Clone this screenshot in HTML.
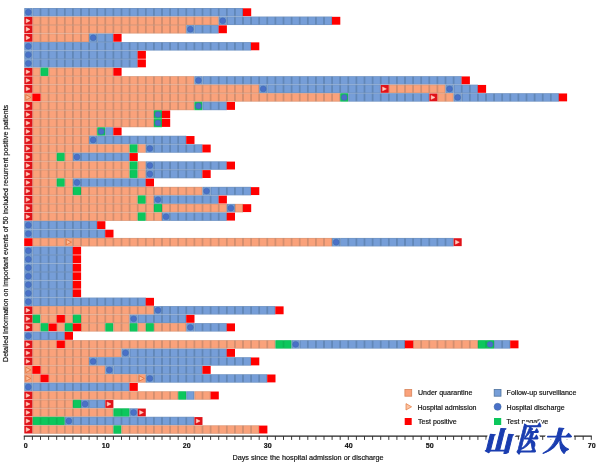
<!DOCTYPE html>
<html><head><meta charset="utf-8"><title>Recurrent positive patients timeline</title>
<style>
html,body{margin:0;padding:0;background:#fff;}
body{width:600px;height:476px;overflow:hidden;font-family:"Liberation Sans","Noto Sans CJK SC",sans-serif;}
text{stroke:#111;stroke-width:0.18px;} .wm text{stroke:inherit;stroke-width:inherit;}
svg{display:block;font-family:"Liberation Sans","Noto Sans CJK SC",sans-serif;}
.wm{font-family:"Liberation Serif","Noto Serif CJK SC",serif;font-weight:900;}
</style></head><body>
<svg width="600" height="476" viewBox="0 0 600 476">
<defs><pattern id="po" patternUnits="userSpaceOnUse" x="24.3" y="8" width="8.1" height="8.516"><rect width="8.1" height="8.516" fill="#C4A89C"/><rect y="0.3" width="8.1" height="7.9" fill="#B47E64"/><rect x="0.5" y="0.3" width="7.1" height="7.9" fill="#FAA27B"/></pattern><pattern id="pb" patternUnits="userSpaceOnUse" x="24.3" y="8" width="8.1" height="8.516"><rect width="8.1" height="8.516" fill="#9FB2C4"/><rect y="0.3" width="8.1" height="7.9" fill="#50749F"/><rect x="0.5" y="0.3" width="7.1" height="7.9" fill="#769ED8"/></pattern><pattern id="pg" patternUnits="userSpaceOnUse" x="24.3" y="8" width="8.1" height="8.516"><rect width="8.1" height="8.516" fill="#8FCFA8"/><rect y="0.3" width="8.1" height="7.9" fill="#0AA84C"/><rect x="0.5" y="0.3" width="7.1" height="7.9" fill="#0CC75C"/></pattern></defs>
<rect width="600" height="476" fill="#fff"/>
<g>
<rect x="24.3" y="8" width="8.1" height="8.52" fill="url(#pb)"/>
<rect x="32.4" y="8" width="210.6" height="8.52" fill="url(#pb)"/>
<circle cx="28.35" cy="12.25" r="2.95" fill="#4A70C8" stroke="#3C6AA8" stroke-width="0.5"/>
<rect x="242.9" y="8.3" width="8.3" height="7.9" fill="#FF0000"/>
<rect x="32.4" y="16.52" width="186.3" height="8.52" fill="url(#po)"/>
<rect x="218.7" y="16.52" width="8.1" height="8.52" fill="url(#pb)"/>
<rect x="226.8" y="16.52" width="105.3" height="8.52" fill="url(#pb)"/>
<rect x="24.3" y="16.82" width="8.1" height="7.9" fill="#E01218"/>
<polygon points="26.2,18.82 30,20.77 26.2,22.72" fill="#FFCDBE" stroke="#FFCDBE" stroke-width="0.5"/>
<circle cx="222.75" cy="20.77" r="2.95" fill="#4A70C8" stroke="#3C6AA8" stroke-width="0.5"/>
<rect x="332" y="16.82" width="8.3" height="7.9" fill="#FF0000"/>
<rect x="32.4" y="25.03" width="153.9" height="8.52" fill="url(#po)"/>
<rect x="186.3" y="25.03" width="8.1" height="8.52" fill="url(#pb)"/>
<rect x="194.4" y="25.03" width="24.3" height="8.52" fill="url(#pb)"/>
<rect x="24.3" y="25.33" width="8.1" height="7.9" fill="#E01218"/>
<polygon points="26.2,27.33 30,29.28 26.2,31.23" fill="#FFCDBE" stroke="#FFCDBE" stroke-width="0.5"/>
<circle cx="190.35" cy="29.28" r="2.95" fill="#4A70C8" stroke="#3C6AA8" stroke-width="0.5"/>
<rect x="218.6" y="25.33" width="8.3" height="7.9" fill="#FF0000"/>
<rect x="32.4" y="33.55" width="56.7" height="8.52" fill="url(#po)"/>
<rect x="89.1" y="33.55" width="8.1" height="8.52" fill="url(#pb)"/>
<rect x="97.2" y="33.55" width="16.2" height="8.52" fill="url(#pb)"/>
<rect x="24.3" y="33.85" width="8.1" height="7.9" fill="#E01218"/>
<polygon points="26.2,35.85 30,37.8 26.2,39.75" fill="#FFCDBE" stroke="#FFCDBE" stroke-width="0.5"/>
<circle cx="93.15" cy="37.8" r="2.95" fill="#4A70C8" stroke="#3C6AA8" stroke-width="0.5"/>
<rect x="113.3" y="33.85" width="8.3" height="7.9" fill="#FF0000"/>
<rect x="24.3" y="42.06" width="8.1" height="8.52" fill="url(#pb)"/>
<rect x="32.4" y="42.06" width="218.7" height="8.52" fill="url(#pb)"/>
<circle cx="28.35" cy="46.31" r="2.95" fill="#4A70C8" stroke="#3C6AA8" stroke-width="0.5"/>
<rect x="251" y="42.36" width="8.3" height="7.9" fill="#FF0000"/>
<rect x="24.3" y="50.58" width="8.1" height="8.52" fill="url(#pb)"/>
<rect x="32.4" y="50.58" width="105.3" height="8.52" fill="url(#pb)"/>
<circle cx="28.35" cy="54.83" r="2.95" fill="#4A70C8" stroke="#3C6AA8" stroke-width="0.5"/>
<rect x="137.6" y="50.88" width="8.3" height="7.9" fill="#FF0000"/>
<rect x="24.3" y="59.1" width="8.1" height="8.52" fill="url(#pb)"/>
<rect x="32.4" y="59.1" width="105.3" height="8.52" fill="url(#pb)"/>
<circle cx="28.35" cy="63.35" r="2.95" fill="#4A70C8" stroke="#3C6AA8" stroke-width="0.5"/>
<rect x="137.6" y="59.4" width="8.3" height="7.9" fill="#FF0000"/>
<rect x="32.4" y="67.61" width="8.1" height="8.52" fill="url(#po)"/>
<rect x="40.5" y="67.61" width="8.1" height="8.52" fill="url(#pg)"/>
<rect x="48.6" y="67.61" width="64.8" height="8.52" fill="url(#po)"/>
<rect x="24.3" y="67.91" width="8.1" height="7.9" fill="#E01218"/>
<polygon points="26.2,69.91 30,71.86 26.2,73.81" fill="#FFCDBE" stroke="#FFCDBE" stroke-width="0.5"/>
<rect x="113.3" y="67.91" width="8.3" height="7.9" fill="#FF0000"/>
<rect x="32.4" y="76.13" width="162" height="8.52" fill="url(#po)"/>
<rect x="194.4" y="76.13" width="8.1" height="8.52" fill="url(#pb)"/>
<rect x="202.5" y="76.13" width="259.2" height="8.52" fill="url(#pb)"/>
<rect x="24.3" y="76.43" width="8.1" height="7.9" fill="#E01218"/>
<polygon points="26.2,78.43 30,80.38 26.2,82.33" fill="#FFCDBE" stroke="#FFCDBE" stroke-width="0.5"/>
<circle cx="198.45" cy="80.38" r="2.95" fill="#4A70C8" stroke="#3C6AA8" stroke-width="0.5"/>
<rect x="461.6" y="76.43" width="8.3" height="7.9" fill="#FF0000"/>
<rect x="32.4" y="84.64" width="226.8" height="8.52" fill="url(#po)"/>
<rect x="259.2" y="84.64" width="8.1" height="8.52" fill="url(#pb)"/>
<rect x="267.3" y="84.64" width="113.4" height="8.52" fill="url(#pb)"/>
<rect x="388.8" y="84.64" width="56.7" height="8.52" fill="url(#po)"/>
<rect x="445.5" y="84.64" width="8.1" height="8.52" fill="url(#pb)"/>
<rect x="453.6" y="84.64" width="24.3" height="8.52" fill="url(#pb)"/>
<rect x="24.3" y="84.94" width="8.1" height="7.9" fill="#E01218"/>
<polygon points="26.2,86.94 30,88.89 26.2,90.84" fill="#FFCDBE" stroke="#FFCDBE" stroke-width="0.5"/>
<circle cx="263.25" cy="88.89" r="2.95" fill="#4A70C8" stroke="#3C6AA8" stroke-width="0.5"/>
<rect x="380.7" y="84.94" width="8.1" height="7.9" fill="#E01218"/>
<polygon points="382.6,86.94 386.4,88.89 382.6,90.84" fill="#FFCDBE" stroke="#FFCDBE" stroke-width="0.5"/>
<circle cx="449.55" cy="88.89" r="2.95" fill="#4A70C8" stroke="#3C6AA8" stroke-width="0.5"/>
<rect x="477.8" y="84.94" width="8.3" height="7.9" fill="#FF0000"/>
<rect x="24.3" y="93.16" width="8.1" height="8.52" fill="url(#po)"/>
<rect x="40.5" y="93.16" width="299.7" height="8.52" fill="url(#po)"/>
<rect x="340.2" y="93.16" width="8.1" height="8.52" fill="url(#pg)"/>
<rect x="348.3" y="93.16" width="81" height="8.52" fill="url(#pb)"/>
<rect x="437.4" y="93.16" width="16.2" height="8.52" fill="url(#po)"/>
<rect x="453.6" y="93.16" width="8.1" height="8.52" fill="url(#pb)"/>
<rect x="461.7" y="93.16" width="97.2" height="8.52" fill="url(#pb)"/>
<polygon points="25.8,94.66 30.9,97.41 25.8,100.16" fill="#FBBE9C" stroke="#E0703A" stroke-width="0.8"/>
<rect x="32.3" y="93.46" width="8.3" height="7.9" fill="#FF0000"/>
<circle cx="344.25" cy="97.41" r="2.95" fill="#4A70C8" stroke="#3C6AA8" stroke-width="0.5"/>
<rect x="429.3" y="93.46" width="8.1" height="7.9" fill="#E01218"/>
<polygon points="431.2,95.46 435,97.41 431.2,99.36" fill="#FFCDBE" stroke="#FFCDBE" stroke-width="0.5"/>
<circle cx="457.65" cy="97.41" r="2.95" fill="#4A70C8" stroke="#3C6AA8" stroke-width="0.5"/>
<rect x="558.8" y="93.46" width="8.3" height="7.9" fill="#FF0000"/>
<rect x="32.4" y="101.68" width="162" height="8.52" fill="url(#po)"/>
<rect x="194.4" y="101.68" width="8.1" height="8.52" fill="url(#pg)"/>
<rect x="202.5" y="101.68" width="24.3" height="8.52" fill="url(#pb)"/>
<rect x="24.3" y="101.98" width="8.1" height="7.9" fill="#E01218"/>
<polygon points="26.2,103.98 30,105.93 26.2,107.88" fill="#FFCDBE" stroke="#FFCDBE" stroke-width="0.5"/>
<circle cx="198.45" cy="105.93" r="2.95" fill="#4A70C8" stroke="#3C6AA8" stroke-width="0.5"/>
<rect x="226.7" y="101.98" width="8.3" height="7.9" fill="#FF0000"/>
<rect x="32.4" y="110.19" width="121.5" height="8.52" fill="url(#po)"/>
<rect x="153.9" y="110.19" width="8.1" height="8.52" fill="url(#pg)"/>
<rect x="24.3" y="110.49" width="8.1" height="7.9" fill="#E01218"/>
<polygon points="26.2,112.49 30,114.44 26.2,116.39" fill="#FFCDBE" stroke="#FFCDBE" stroke-width="0.5"/>
<circle cx="157.95" cy="114.44" r="2.95" fill="#4A70C8" stroke="#3C6AA8" stroke-width="0.5"/>
<rect x="161.9" y="110.49" width="8.3" height="7.9" fill="#FF0000"/>
<rect x="32.4" y="118.71" width="121.5" height="8.52" fill="url(#po)"/>
<rect x="153.9" y="118.71" width="8.1" height="8.52" fill="url(#pg)"/>
<rect x="24.3" y="119.01" width="8.1" height="7.9" fill="#E01218"/>
<polygon points="26.2,121.01 30,122.96 26.2,124.91" fill="#FFCDBE" stroke="#FFCDBE" stroke-width="0.5"/>
<circle cx="157.95" cy="122.96" r="2.95" fill="#4A70C8" stroke="#3C6AA8" stroke-width="0.5"/>
<rect x="161.9" y="119.01" width="8.3" height="7.9" fill="#FF0000"/>
<rect x="32.4" y="127.22" width="64.8" height="8.52" fill="url(#po)"/>
<rect x="97.2" y="127.22" width="8.1" height="8.52" fill="url(#pg)"/>
<rect x="105.3" y="127.22" width="8.1" height="8.52" fill="url(#pb)"/>
<rect x="24.3" y="127.52" width="8.1" height="7.9" fill="#E01218"/>
<polygon points="26.2,129.52 30,131.47 26.2,133.42" fill="#FFCDBE" stroke="#FFCDBE" stroke-width="0.5"/>
<circle cx="101.25" cy="131.47" r="2.95" fill="#4A70C8" stroke="#3C6AA8" stroke-width="0.5"/>
<rect x="113.3" y="127.52" width="8.3" height="7.9" fill="#FF0000"/>
<rect x="32.4" y="135.74" width="56.7" height="8.52" fill="url(#po)"/>
<rect x="89.1" y="135.74" width="8.1" height="8.52" fill="url(#pb)"/>
<rect x="97.2" y="135.74" width="89.1" height="8.52" fill="url(#pb)"/>
<rect x="24.3" y="136.04" width="8.1" height="7.9" fill="#E01218"/>
<polygon points="26.2,138.04 30,139.99 26.2,141.94" fill="#FFCDBE" stroke="#FFCDBE" stroke-width="0.5"/>
<circle cx="93.15" cy="139.99" r="2.95" fill="#4A70C8" stroke="#3C6AA8" stroke-width="0.5"/>
<rect x="186.2" y="136.04" width="8.3" height="7.9" fill="#FF0000"/>
<rect x="32.4" y="144.26" width="97.2" height="8.52" fill="url(#po)"/>
<rect x="129.6" y="144.26" width="8.1" height="8.52" fill="url(#pg)"/>
<rect x="137.7" y="144.26" width="8.1" height="8.52" fill="url(#po)"/>
<rect x="145.8" y="144.26" width="8.1" height="8.52" fill="url(#pb)"/>
<rect x="153.9" y="144.26" width="48.6" height="8.52" fill="url(#pb)"/>
<rect x="24.3" y="144.56" width="8.1" height="7.9" fill="#E01218"/>
<polygon points="26.2,146.56 30,148.51 26.2,150.46" fill="#FFCDBE" stroke="#FFCDBE" stroke-width="0.5"/>
<circle cx="149.85" cy="148.51" r="2.95" fill="#4A70C8" stroke="#3C6AA8" stroke-width="0.5"/>
<rect x="202.4" y="144.56" width="8.3" height="7.9" fill="#FF0000"/>
<rect x="32.4" y="152.77" width="24.3" height="8.52" fill="url(#po)"/>
<rect x="56.7" y="152.77" width="8.1" height="8.52" fill="url(#pg)"/>
<rect x="64.8" y="152.77" width="8.1" height="8.52" fill="url(#po)"/>
<rect x="72.9" y="152.77" width="8.1" height="8.52" fill="url(#pb)"/>
<rect x="81" y="152.77" width="48.6" height="8.52" fill="url(#pb)"/>
<rect x="24.3" y="153.07" width="8.1" height="7.9" fill="#E01218"/>
<polygon points="26.2,155.07 30,157.02 26.2,158.97" fill="#FFCDBE" stroke="#FFCDBE" stroke-width="0.5"/>
<circle cx="76.95" cy="157.02" r="2.95" fill="#4A70C8" stroke="#3C6AA8" stroke-width="0.5"/>
<rect x="129.5" y="153.07" width="8.3" height="7.9" fill="#FF0000"/>
<rect x="32.4" y="161.29" width="97.2" height="8.52" fill="url(#po)"/>
<rect x="129.6" y="161.29" width="8.1" height="8.52" fill="url(#pg)"/>
<rect x="137.7" y="161.29" width="8.1" height="8.52" fill="url(#po)"/>
<rect x="145.8" y="161.29" width="8.1" height="8.52" fill="url(#pb)"/>
<rect x="153.9" y="161.29" width="72.9" height="8.52" fill="url(#pb)"/>
<rect x="24.3" y="161.59" width="8.1" height="7.9" fill="#E01218"/>
<polygon points="26.2,163.59 30,165.54 26.2,167.49" fill="#FFCDBE" stroke="#FFCDBE" stroke-width="0.5"/>
<circle cx="149.85" cy="165.54" r="2.95" fill="#4A70C8" stroke="#3C6AA8" stroke-width="0.5"/>
<rect x="226.7" y="161.59" width="8.3" height="7.9" fill="#FF0000"/>
<rect x="32.4" y="169.8" width="97.2" height="8.52" fill="url(#po)"/>
<rect x="129.6" y="169.8" width="8.1" height="8.52" fill="url(#pg)"/>
<rect x="137.7" y="169.8" width="8.1" height="8.52" fill="url(#po)"/>
<rect x="145.8" y="169.8" width="8.1" height="8.52" fill="url(#pb)"/>
<rect x="153.9" y="169.8" width="48.6" height="8.52" fill="url(#pb)"/>
<rect x="24.3" y="170.1" width="8.1" height="7.9" fill="#E01218"/>
<polygon points="26.2,172.1 30,174.05 26.2,176" fill="#FFCDBE" stroke="#FFCDBE" stroke-width="0.5"/>
<circle cx="149.85" cy="174.05" r="2.95" fill="#4A70C8" stroke="#3C6AA8" stroke-width="0.5"/>
<rect x="202.4" y="170.1" width="8.3" height="7.9" fill="#FF0000"/>
<rect x="32.4" y="178.32" width="24.3" height="8.52" fill="url(#po)"/>
<rect x="56.7" y="178.32" width="8.1" height="8.52" fill="url(#pg)"/>
<rect x="64.8" y="178.32" width="8.1" height="8.52" fill="url(#po)"/>
<rect x="72.9" y="178.32" width="8.1" height="8.52" fill="url(#pb)"/>
<rect x="81" y="178.32" width="64.8" height="8.52" fill="url(#pb)"/>
<rect x="24.3" y="178.62" width="8.1" height="7.9" fill="#E01218"/>
<polygon points="26.2,180.62 30,182.57 26.2,184.52" fill="#FFCDBE" stroke="#FFCDBE" stroke-width="0.5"/>
<circle cx="76.95" cy="182.57" r="2.95" fill="#4A70C8" stroke="#3C6AA8" stroke-width="0.5"/>
<rect x="145.7" y="178.62" width="8.3" height="7.9" fill="#FF0000"/>
<rect x="32.4" y="186.84" width="40.5" height="8.52" fill="url(#po)"/>
<rect x="72.9" y="186.84" width="8.1" height="8.52" fill="url(#pg)"/>
<rect x="81" y="186.84" width="121.5" height="8.52" fill="url(#po)"/>
<rect x="202.5" y="186.84" width="8.1" height="8.52" fill="url(#pb)"/>
<rect x="210.6" y="186.84" width="40.5" height="8.52" fill="url(#pb)"/>
<rect x="24.3" y="187.14" width="8.1" height="7.9" fill="#E01218"/>
<polygon points="26.2,189.14 30,191.09 26.2,193.04" fill="#FFCDBE" stroke="#FFCDBE" stroke-width="0.5"/>
<circle cx="206.55" cy="191.09" r="2.95" fill="#4A70C8" stroke="#3C6AA8" stroke-width="0.5"/>
<rect x="251" y="187.14" width="8.3" height="7.9" fill="#FF0000"/>
<rect x="32.4" y="195.35" width="105.3" height="8.52" fill="url(#po)"/>
<rect x="137.7" y="195.35" width="8.1" height="8.52" fill="url(#pg)"/>
<rect x="145.8" y="195.35" width="8.1" height="8.52" fill="url(#po)"/>
<rect x="153.9" y="195.35" width="8.1" height="8.52" fill="url(#pb)"/>
<rect x="162" y="195.35" width="56.7" height="8.52" fill="url(#pb)"/>
<rect x="24.3" y="195.65" width="8.1" height="7.9" fill="#E01218"/>
<polygon points="26.2,197.65 30,199.6 26.2,201.55" fill="#FFCDBE" stroke="#FFCDBE" stroke-width="0.5"/>
<circle cx="157.95" cy="199.6" r="2.95" fill="#4A70C8" stroke="#3C6AA8" stroke-width="0.5"/>
<rect x="218.6" y="195.65" width="8.3" height="7.9" fill="#FF0000"/>
<rect x="32.4" y="203.87" width="121.5" height="8.52" fill="url(#po)"/>
<rect x="153.9" y="203.87" width="8.1" height="8.52" fill="url(#pg)"/>
<rect x="162" y="203.87" width="64.8" height="8.52" fill="url(#po)"/>
<rect x="226.8" y="203.87" width="8.1" height="8.52" fill="url(#pb)"/>
<rect x="234.9" y="203.87" width="8.1" height="8.52" fill="url(#po)"/>
<rect x="24.3" y="204.17" width="8.1" height="7.9" fill="#E01218"/>
<polygon points="26.2,206.17 30,208.12 26.2,210.07" fill="#FFCDBE" stroke="#FFCDBE" stroke-width="0.5"/>
<circle cx="230.85" cy="208.12" r="2.95" fill="#4A70C8" stroke="#3C6AA8" stroke-width="0.5"/>
<rect x="242.9" y="204.17" width="8.3" height="7.9" fill="#FF0000"/>
<rect x="32.4" y="212.38" width="105.3" height="8.52" fill="url(#po)"/>
<rect x="137.7" y="212.38" width="8.1" height="8.52" fill="url(#pg)"/>
<rect x="145.8" y="212.38" width="16.2" height="8.52" fill="url(#po)"/>
<rect x="162" y="212.38" width="8.1" height="8.52" fill="url(#pb)"/>
<rect x="170.1" y="212.38" width="56.7" height="8.52" fill="url(#pb)"/>
<rect x="24.3" y="212.68" width="8.1" height="7.9" fill="#E01218"/>
<polygon points="26.2,214.68 30,216.63 26.2,218.58" fill="#FFCDBE" stroke="#FFCDBE" stroke-width="0.5"/>
<circle cx="166.05" cy="216.63" r="2.95" fill="#4A70C8" stroke="#3C6AA8" stroke-width="0.5"/>
<rect x="226.7" y="212.68" width="8.3" height="7.9" fill="#FF0000"/>
<rect x="24.3" y="220.9" width="8.1" height="8.52" fill="url(#pb)"/>
<rect x="32.4" y="220.9" width="64.8" height="8.52" fill="url(#pb)"/>
<circle cx="28.35" cy="225.15" r="2.95" fill="#4A70C8" stroke="#3C6AA8" stroke-width="0.5"/>
<rect x="97.1" y="221.2" width="8.3" height="7.9" fill="#FF0000"/>
<rect x="24.3" y="229.42" width="8.1" height="8.52" fill="url(#pb)"/>
<rect x="32.4" y="229.42" width="72.9" height="8.52" fill="url(#pb)"/>
<circle cx="28.35" cy="233.67" r="2.95" fill="#4A70C8" stroke="#3C6AA8" stroke-width="0.5"/>
<rect x="105.2" y="229.72" width="8.3" height="7.9" fill="#FF0000"/>
<rect x="32.4" y="237.93" width="32.4" height="8.52" fill="url(#po)"/>
<rect x="64.8" y="237.93" width="8.1" height="8.52" fill="url(#po)"/>
<rect x="72.9" y="237.93" width="259.2" height="8.52" fill="url(#po)"/>
<rect x="332.1" y="237.93" width="8.1" height="8.52" fill="url(#pb)"/>
<rect x="340.2" y="237.93" width="113.4" height="8.52" fill="url(#pb)"/>
<rect x="24.2" y="238.23" width="8.3" height="7.9" fill="#FF0000"/>
<polygon points="66.3,239.43 71.4,242.18 66.3,244.93" fill="#FBBE9C" stroke="#E0703A" stroke-width="0.8"/>
<circle cx="336.15" cy="242.18" r="2.95" fill="#4A70C8" stroke="#3C6AA8" stroke-width="0.5"/>
<rect x="453.6" y="238.23" width="8.1" height="7.9" fill="#E01218"/>
<polygon points="455.5,240.23 459.3,242.18 455.5,244.13" fill="#FFCDBE" stroke="#FFCDBE" stroke-width="0.5"/>
<rect x="24.3" y="246.45" width="8.1" height="8.52" fill="url(#pb)"/>
<rect x="32.4" y="246.45" width="40.5" height="8.52" fill="url(#pb)"/>
<circle cx="28.35" cy="250.7" r="2.95" fill="#4A70C8" stroke="#3C6AA8" stroke-width="0.5"/>
<rect x="72.8" y="246.75" width="8.3" height="7.9" fill="#FF0000"/>
<rect x="24.3" y="254.96" width="8.1" height="8.52" fill="url(#pb)"/>
<rect x="32.4" y="254.96" width="40.5" height="8.52" fill="url(#pb)"/>
<circle cx="28.35" cy="259.21" r="2.95" fill="#4A70C8" stroke="#3C6AA8" stroke-width="0.5"/>
<rect x="72.8" y="255.26" width="8.3" height="7.9" fill="#FF0000"/>
<rect x="24.3" y="263.48" width="8.1" height="8.52" fill="url(#pb)"/>
<rect x="32.4" y="263.48" width="40.5" height="8.52" fill="url(#pb)"/>
<circle cx="28.35" cy="267.73" r="2.95" fill="#4A70C8" stroke="#3C6AA8" stroke-width="0.5"/>
<rect x="72.8" y="263.78" width="8.3" height="7.9" fill="#FF0000"/>
<rect x="24.3" y="272" width="8.1" height="8.52" fill="url(#pb)"/>
<rect x="32.4" y="272" width="40.5" height="8.52" fill="url(#pb)"/>
<circle cx="28.35" cy="276.25" r="2.95" fill="#4A70C8" stroke="#3C6AA8" stroke-width="0.5"/>
<rect x="72.8" y="272.3" width="8.3" height="7.9" fill="#FF0000"/>
<rect x="24.3" y="280.51" width="8.1" height="8.52" fill="url(#pb)"/>
<rect x="32.4" y="280.51" width="40.5" height="8.52" fill="url(#pb)"/>
<circle cx="28.35" cy="284.76" r="2.95" fill="#4A70C8" stroke="#3C6AA8" stroke-width="0.5"/>
<rect x="72.8" y="280.81" width="8.3" height="7.9" fill="#FF0000"/>
<rect x="24.3" y="289.03" width="8.1" height="8.52" fill="url(#pb)"/>
<rect x="32.4" y="289.03" width="40.5" height="8.52" fill="url(#pb)"/>
<circle cx="28.35" cy="293.28" r="2.95" fill="#4A70C8" stroke="#3C6AA8" stroke-width="0.5"/>
<rect x="72.8" y="289.33" width="8.3" height="7.9" fill="#FF0000"/>
<rect x="24.3" y="297.54" width="8.1" height="8.52" fill="url(#pb)"/>
<rect x="32.4" y="297.54" width="113.4" height="8.52" fill="url(#pb)"/>
<circle cx="28.35" cy="301.79" r="2.95" fill="#4A70C8" stroke="#3C6AA8" stroke-width="0.5"/>
<rect x="145.7" y="297.84" width="8.3" height="7.9" fill="#FF0000"/>
<rect x="32.4" y="306.06" width="121.5" height="8.52" fill="url(#po)"/>
<rect x="153.9" y="306.06" width="8.1" height="8.52" fill="url(#pb)"/>
<rect x="162" y="306.06" width="113.4" height="8.52" fill="url(#pb)"/>
<rect x="24.3" y="306.36" width="8.1" height="7.9" fill="#E01218"/>
<polygon points="26.2,308.36 30,310.31 26.2,312.26" fill="#FFCDBE" stroke="#FFCDBE" stroke-width="0.5"/>
<circle cx="157.95" cy="310.31" r="2.95" fill="#4A70C8" stroke="#3C6AA8" stroke-width="0.5"/>
<rect x="275.3" y="306.36" width="8.3" height="7.9" fill="#FF0000"/>
<rect x="32.4" y="314.58" width="8.1" height="8.52" fill="url(#pg)"/>
<rect x="40.5" y="314.58" width="16.2" height="8.52" fill="url(#po)"/>
<rect x="64.8" y="314.58" width="8.1" height="8.52" fill="url(#po)"/>
<rect x="72.9" y="314.58" width="8.1" height="8.52" fill="url(#pg)"/>
<rect x="81" y="314.58" width="48.6" height="8.52" fill="url(#po)"/>
<rect x="129.6" y="314.58" width="8.1" height="8.52" fill="url(#pb)"/>
<rect x="137.7" y="314.58" width="48.6" height="8.52" fill="url(#pb)"/>
<rect x="24.3" y="314.88" width="8.1" height="7.9" fill="#E01218"/>
<polygon points="26.2,316.88 30,318.83 26.2,320.78" fill="#FFCDBE" stroke="#FFCDBE" stroke-width="0.5"/>
<rect x="56.6" y="314.88" width="8.3" height="7.9" fill="#FF0000"/>
<circle cx="133.65" cy="318.83" r="2.95" fill="#4A70C8" stroke="#3C6AA8" stroke-width="0.5"/>
<rect x="186.2" y="314.88" width="8.3" height="7.9" fill="#FF0000"/>
<rect x="32.4" y="323.09" width="8.1" height="8.52" fill="url(#po)"/>
<rect x="40.5" y="323.09" width="8.1" height="8.52" fill="url(#pg)"/>
<rect x="56.7" y="323.09" width="8.1" height="8.52" fill="url(#po)"/>
<rect x="64.8" y="323.09" width="8.1" height="8.52" fill="url(#pg)"/>
<rect x="81" y="323.09" width="24.3" height="8.52" fill="url(#po)"/>
<rect x="105.3" y="323.09" width="8.1" height="8.52" fill="url(#pg)"/>
<rect x="113.4" y="323.09" width="16.2" height="8.52" fill="url(#po)"/>
<rect x="129.6" y="323.09" width="8.1" height="8.52" fill="url(#pg)"/>
<rect x="137.7" y="323.09" width="8.1" height="8.52" fill="url(#po)"/>
<rect x="145.8" y="323.09" width="8.1" height="8.52" fill="url(#pg)"/>
<rect x="153.9" y="323.09" width="32.4" height="8.52" fill="url(#po)"/>
<rect x="186.3" y="323.09" width="8.1" height="8.52" fill="url(#pb)"/>
<rect x="194.4" y="323.09" width="32.4" height="8.52" fill="url(#pb)"/>
<rect x="24.3" y="323.39" width="8.1" height="7.9" fill="#E01218"/>
<polygon points="26.2,325.39 30,327.34 26.2,329.29" fill="#FFCDBE" stroke="#FFCDBE" stroke-width="0.5"/>
<rect x="48.5" y="323.39" width="8.3" height="7.9" fill="#FF0000"/>
<rect x="72.8" y="323.39" width="8.3" height="7.9" fill="#FF0000"/>
<circle cx="190.35" cy="327.34" r="2.95" fill="#4A70C8" stroke="#3C6AA8" stroke-width="0.5"/>
<rect x="226.7" y="323.39" width="8.3" height="7.9" fill="#FF0000"/>
<rect x="24.3" y="331.61" width="8.1" height="8.52" fill="url(#pb)"/>
<rect x="32.4" y="331.61" width="32.4" height="8.52" fill="url(#pb)"/>
<circle cx="28.35" cy="335.86" r="2.95" fill="#4A70C8" stroke="#3C6AA8" stroke-width="0.5"/>
<rect x="64.7" y="331.91" width="8.3" height="7.9" fill="#FF0000"/>
<rect x="32.4" y="340.12" width="24.3" height="8.52" fill="url(#po)"/>
<rect x="64.8" y="340.12" width="210.6" height="8.52" fill="url(#po)"/>
<rect x="275.4" y="340.12" width="16.2" height="8.52" fill="url(#pg)"/>
<rect x="291.6" y="340.12" width="8.1" height="8.52" fill="url(#pb)"/>
<rect x="299.7" y="340.12" width="105.3" height="8.52" fill="url(#pb)"/>
<rect x="413.1" y="340.12" width="64.8" height="8.52" fill="url(#po)"/>
<rect x="477.9" y="340.12" width="8.1" height="8.52" fill="url(#pg)"/>
<rect x="486" y="340.12" width="8.1" height="8.52" fill="url(#pg)"/>
<rect x="494.1" y="340.12" width="16.2" height="8.52" fill="url(#pb)"/>
<rect x="24.3" y="340.42" width="8.1" height="7.9" fill="#E01218"/>
<polygon points="26.2,342.42 30,344.37 26.2,346.32" fill="#FFCDBE" stroke="#FFCDBE" stroke-width="0.5"/>
<rect x="56.6" y="340.42" width="8.3" height="7.9" fill="#FF0000"/>
<circle cx="295.65" cy="344.37" r="2.95" fill="#4A70C8" stroke="#3C6AA8" stroke-width="0.5"/>
<rect x="404.9" y="340.42" width="8.3" height="7.9" fill="#FF0000"/>
<circle cx="490.05" cy="344.37" r="2.95" fill="#4A70C8" stroke="#3C6AA8" stroke-width="0.5"/>
<rect x="510.2" y="340.42" width="8.3" height="7.9" fill="#FF0000"/>
<rect x="32.4" y="348.64" width="89.1" height="8.52" fill="url(#po)"/>
<rect x="121.5" y="348.64" width="8.1" height="8.52" fill="url(#pb)"/>
<rect x="129.6" y="348.64" width="97.2" height="8.52" fill="url(#pb)"/>
<rect x="24.3" y="348.94" width="8.1" height="7.9" fill="#E01218"/>
<polygon points="26.2,350.94 30,352.89 26.2,354.84" fill="#FFCDBE" stroke="#FFCDBE" stroke-width="0.5"/>
<circle cx="125.55" cy="352.89" r="2.95" fill="#4A70C8" stroke="#3C6AA8" stroke-width="0.5"/>
<rect x="226.7" y="348.94" width="8.3" height="7.9" fill="#FF0000"/>
<rect x="32.4" y="357.16" width="56.7" height="8.52" fill="url(#po)"/>
<rect x="89.1" y="357.16" width="8.1" height="8.52" fill="url(#pb)"/>
<rect x="97.2" y="357.16" width="153.9" height="8.52" fill="url(#pb)"/>
<rect x="24.3" y="357.46" width="8.1" height="7.9" fill="#E01218"/>
<polygon points="26.2,359.46 30,361.41 26.2,363.36" fill="#FFCDBE" stroke="#FFCDBE" stroke-width="0.5"/>
<circle cx="93.15" cy="361.41" r="2.95" fill="#4A70C8" stroke="#3C6AA8" stroke-width="0.5"/>
<rect x="251" y="357.46" width="8.3" height="7.9" fill="#FF0000"/>
<rect x="24.3" y="365.67" width="8.1" height="8.52" fill="url(#po)"/>
<rect x="40.5" y="365.67" width="64.8" height="8.52" fill="url(#po)"/>
<rect x="105.3" y="365.67" width="8.1" height="8.52" fill="url(#pb)"/>
<rect x="113.4" y="365.67" width="89.1" height="8.52" fill="url(#pb)"/>
<polygon points="25.8,367.17 30.9,369.92 25.8,372.67" fill="#FBBE9C" stroke="#E0703A" stroke-width="0.8"/>
<rect x="32.3" y="365.97" width="8.3" height="7.9" fill="#FF0000"/>
<circle cx="109.35" cy="369.92" r="2.95" fill="#4A70C8" stroke="#3C6AA8" stroke-width="0.5"/>
<rect x="202.4" y="365.97" width="8.3" height="7.9" fill="#FF0000"/>
<rect x="24.3" y="374.19" width="8.1" height="8.52" fill="url(#po)"/>
<rect x="32.4" y="374.19" width="8.1" height="8.52" fill="url(#po)"/>
<rect x="48.6" y="374.19" width="89.1" height="8.52" fill="url(#po)"/>
<rect x="137.7" y="374.19" width="8.1" height="8.52" fill="url(#po)"/>
<rect x="145.8" y="374.19" width="8.1" height="8.52" fill="url(#pb)"/>
<rect x="153.9" y="374.19" width="113.4" height="8.52" fill="url(#pb)"/>
<polygon points="25.8,375.69 30.9,378.44 25.8,381.19" fill="#FBBE9C" stroke="#E0703A" stroke-width="0.8"/>
<rect x="40.4" y="374.49" width="8.3" height="7.9" fill="#FF0000"/>
<polygon points="139.2,375.69 144.3,378.44 139.2,381.19" fill="#FBBE9C" stroke="#E0703A" stroke-width="0.8"/>
<circle cx="149.85" cy="378.44" r="2.95" fill="#4A70C8" stroke="#3C6AA8" stroke-width="0.5"/>
<rect x="267.2" y="374.49" width="8.3" height="7.9" fill="#FF0000"/>
<rect x="24.3" y="382.7" width="8.1" height="8.52" fill="url(#pb)"/>
<rect x="32.4" y="382.7" width="97.2" height="8.52" fill="url(#pb)"/>
<circle cx="28.35" cy="386.95" r="2.95" fill="#4A70C8" stroke="#3C6AA8" stroke-width="0.5"/>
<rect x="129.5" y="383" width="8.3" height="7.9" fill="#FF0000"/>
<rect x="32.4" y="391.22" width="145.8" height="8.52" fill="url(#po)"/>
<rect x="178.2" y="391.22" width="8.1" height="8.52" fill="url(#pg)"/>
<rect x="186.3" y="391.22" width="8.1" height="8.52" fill="url(#pb)"/>
<rect x="194.4" y="391.22" width="16.2" height="8.52" fill="url(#po)"/>
<rect x="24.3" y="391.52" width="8.1" height="7.9" fill="#E01218"/>
<polygon points="26.2,393.52 30,395.47 26.2,397.42" fill="#FFCDBE" stroke="#FFCDBE" stroke-width="0.5"/>
<rect x="210.5" y="391.52" width="8.3" height="7.9" fill="#FF0000"/>
<rect x="32.4" y="399.74" width="40.5" height="8.52" fill="url(#po)"/>
<rect x="72.9" y="399.74" width="8.1" height="8.52" fill="url(#pg)"/>
<rect x="81" y="399.74" width="8.1" height="8.52" fill="url(#pb)"/>
<rect x="89.1" y="399.74" width="16.2" height="8.52" fill="url(#pb)"/>
<rect x="24.3" y="400.04" width="8.1" height="7.9" fill="#E01218"/>
<polygon points="26.2,402.04 30,403.99 26.2,405.94" fill="#FFCDBE" stroke="#FFCDBE" stroke-width="0.5"/>
<circle cx="85.05" cy="403.99" r="2.95" fill="#4A70C8" stroke="#3C6AA8" stroke-width="0.5"/>
<rect x="105.3" y="400.04" width="8.1" height="7.9" fill="#E01218"/>
<polygon points="107.2,402.04 111,403.99 107.2,405.94" fill="#FFCDBE" stroke="#FFCDBE" stroke-width="0.5"/>
<rect x="32.4" y="408.25" width="81" height="8.52" fill="url(#po)"/>
<rect x="113.4" y="408.25" width="16.2" height="8.52" fill="url(#pg)"/>
<rect x="129.6" y="408.25" width="8.1" height="8.52" fill="url(#pb)"/>
<rect x="24.3" y="408.55" width="8.1" height="7.9" fill="#E01218"/>
<polygon points="26.2,410.55 30,412.5 26.2,414.45" fill="#FFCDBE" stroke="#FFCDBE" stroke-width="0.5"/>
<circle cx="133.65" cy="412.5" r="2.95" fill="#4A70C8" stroke="#3C6AA8" stroke-width="0.5"/>
<rect x="137.7" y="408.55" width="8.1" height="7.9" fill="#E01218"/>
<polygon points="139.6,410.55 143.4,412.5 139.6,414.45" fill="#FFCDBE" stroke="#FFCDBE" stroke-width="0.5"/>
<rect x="32.4" y="416.77" width="32.4" height="8.52" fill="url(#pg)"/>
<rect x="64.8" y="416.77" width="8.1" height="8.52" fill="url(#pb)"/>
<rect x="72.9" y="416.77" width="121.5" height="8.52" fill="url(#pb)"/>
<rect x="24.3" y="417.07" width="8.1" height="7.9" fill="#E01218"/>
<polygon points="26.2,419.07 30,421.02 26.2,422.97" fill="#FFCDBE" stroke="#FFCDBE" stroke-width="0.5"/>
<circle cx="68.85" cy="421.02" r="2.95" fill="#4A70C8" stroke="#3C6AA8" stroke-width="0.5"/>
<rect x="194.4" y="417.07" width="8.1" height="7.9" fill="#E01218"/>
<polygon points="196.3,419.07 200.1,421.02 196.3,422.97" fill="#FFCDBE" stroke="#FFCDBE" stroke-width="0.5"/>
<rect x="32.4" y="425.28" width="81" height="8.52" fill="url(#po)"/>
<rect x="113.4" y="425.28" width="8.1" height="8.52" fill="url(#pg)"/>
<rect x="121.5" y="425.28" width="137.7" height="8.52" fill="url(#po)"/>
<rect x="24.3" y="425.58" width="8.1" height="7.9" fill="#E01218"/>
<polygon points="26.2,427.58 30,429.53 26.2,431.48" fill="#FFCDBE" stroke="#FFCDBE" stroke-width="0.5"/>
<rect x="259.1" y="425.58" width="8.3" height="7.9" fill="#FF0000"/>
</g>
<g>
<line x1="23.8" y1="436.2" x2="591.8" y2="436.2" stroke="#222" stroke-width="1.2"/>
<line x1="24.3" y1="436.2" x2="24.3" y2="439.9" stroke="#222" stroke-width="0.9"/>
<line x1="32.4" y1="436.2" x2="32.4" y2="439.9" stroke="#222" stroke-width="0.9"/>
<line x1="40.5" y1="436.2" x2="40.5" y2="439.9" stroke="#222" stroke-width="0.9"/>
<line x1="48.6" y1="436.2" x2="48.6" y2="439.9" stroke="#222" stroke-width="0.9"/>
<line x1="56.7" y1="436.2" x2="56.7" y2="439.9" stroke="#222" stroke-width="0.9"/>
<line x1="64.8" y1="436.2" x2="64.8" y2="439.9" stroke="#222" stroke-width="0.9"/>
<line x1="72.9" y1="436.2" x2="72.9" y2="439.9" stroke="#222" stroke-width="0.9"/>
<line x1="81" y1="436.2" x2="81" y2="439.9" stroke="#222" stroke-width="0.9"/>
<line x1="89.1" y1="436.2" x2="89.1" y2="439.9" stroke="#222" stroke-width="0.9"/>
<line x1="97.2" y1="436.2" x2="97.2" y2="439.9" stroke="#222" stroke-width="0.9"/>
<line x1="105.3" y1="436.2" x2="105.3" y2="439.9" stroke="#222" stroke-width="0.9"/>
<line x1="113.4" y1="436.2" x2="113.4" y2="439.9" stroke="#222" stroke-width="0.9"/>
<line x1="121.5" y1="436.2" x2="121.5" y2="439.9" stroke="#222" stroke-width="0.9"/>
<line x1="129.6" y1="436.2" x2="129.6" y2="439.9" stroke="#222" stroke-width="0.9"/>
<line x1="137.7" y1="436.2" x2="137.7" y2="439.9" stroke="#222" stroke-width="0.9"/>
<line x1="145.8" y1="436.2" x2="145.8" y2="439.9" stroke="#222" stroke-width="0.9"/>
<line x1="153.9" y1="436.2" x2="153.9" y2="439.9" stroke="#222" stroke-width="0.9"/>
<line x1="162" y1="436.2" x2="162" y2="439.9" stroke="#222" stroke-width="0.9"/>
<line x1="170.1" y1="436.2" x2="170.1" y2="439.9" stroke="#222" stroke-width="0.9"/>
<line x1="178.2" y1="436.2" x2="178.2" y2="439.9" stroke="#222" stroke-width="0.9"/>
<line x1="186.3" y1="436.2" x2="186.3" y2="439.9" stroke="#222" stroke-width="0.9"/>
<line x1="194.4" y1="436.2" x2="194.4" y2="439.9" stroke="#222" stroke-width="0.9"/>
<line x1="202.5" y1="436.2" x2="202.5" y2="439.9" stroke="#222" stroke-width="0.9"/>
<line x1="210.6" y1="436.2" x2="210.6" y2="439.9" stroke="#222" stroke-width="0.9"/>
<line x1="218.7" y1="436.2" x2="218.7" y2="439.9" stroke="#222" stroke-width="0.9"/>
<line x1="226.8" y1="436.2" x2="226.8" y2="439.9" stroke="#222" stroke-width="0.9"/>
<line x1="234.9" y1="436.2" x2="234.9" y2="439.9" stroke="#222" stroke-width="0.9"/>
<line x1="243" y1="436.2" x2="243" y2="439.9" stroke="#222" stroke-width="0.9"/>
<line x1="251.1" y1="436.2" x2="251.1" y2="439.9" stroke="#222" stroke-width="0.9"/>
<line x1="259.2" y1="436.2" x2="259.2" y2="439.9" stroke="#222" stroke-width="0.9"/>
<line x1="267.3" y1="436.2" x2="267.3" y2="439.9" stroke="#222" stroke-width="0.9"/>
<line x1="275.4" y1="436.2" x2="275.4" y2="439.9" stroke="#222" stroke-width="0.9"/>
<line x1="283.5" y1="436.2" x2="283.5" y2="439.9" stroke="#222" stroke-width="0.9"/>
<line x1="291.6" y1="436.2" x2="291.6" y2="439.9" stroke="#222" stroke-width="0.9"/>
<line x1="299.7" y1="436.2" x2="299.7" y2="439.9" stroke="#222" stroke-width="0.9"/>
<line x1="307.8" y1="436.2" x2="307.8" y2="439.9" stroke="#222" stroke-width="0.9"/>
<line x1="315.9" y1="436.2" x2="315.9" y2="439.9" stroke="#222" stroke-width="0.9"/>
<line x1="324" y1="436.2" x2="324" y2="439.9" stroke="#222" stroke-width="0.9"/>
<line x1="332.1" y1="436.2" x2="332.1" y2="439.9" stroke="#222" stroke-width="0.9"/>
<line x1="340.2" y1="436.2" x2="340.2" y2="439.9" stroke="#222" stroke-width="0.9"/>
<line x1="348.3" y1="436.2" x2="348.3" y2="439.9" stroke="#222" stroke-width="0.9"/>
<line x1="356.4" y1="436.2" x2="356.4" y2="439.9" stroke="#222" stroke-width="0.9"/>
<line x1="364.5" y1="436.2" x2="364.5" y2="439.9" stroke="#222" stroke-width="0.9"/>
<line x1="372.6" y1="436.2" x2="372.6" y2="439.9" stroke="#222" stroke-width="0.9"/>
<line x1="380.7" y1="436.2" x2="380.7" y2="439.9" stroke="#222" stroke-width="0.9"/>
<line x1="388.8" y1="436.2" x2="388.8" y2="439.9" stroke="#222" stroke-width="0.9"/>
<line x1="396.9" y1="436.2" x2="396.9" y2="439.9" stroke="#222" stroke-width="0.9"/>
<line x1="405" y1="436.2" x2="405" y2="439.9" stroke="#222" stroke-width="0.9"/>
<line x1="413.1" y1="436.2" x2="413.1" y2="439.9" stroke="#222" stroke-width="0.9"/>
<line x1="421.2" y1="436.2" x2="421.2" y2="439.9" stroke="#222" stroke-width="0.9"/>
<line x1="429.3" y1="436.2" x2="429.3" y2="439.9" stroke="#222" stroke-width="0.9"/>
<line x1="437.4" y1="436.2" x2="437.4" y2="439.9" stroke="#222" stroke-width="0.9"/>
<line x1="445.5" y1="436.2" x2="445.5" y2="439.9" stroke="#222" stroke-width="0.9"/>
<line x1="453.6" y1="436.2" x2="453.6" y2="439.9" stroke="#222" stroke-width="0.9"/>
<line x1="461.7" y1="436.2" x2="461.7" y2="439.9" stroke="#222" stroke-width="0.9"/>
<line x1="469.8" y1="436.2" x2="469.8" y2="439.9" stroke="#222" stroke-width="0.9"/>
<line x1="477.9" y1="436.2" x2="477.9" y2="439.9" stroke="#222" stroke-width="0.9"/>
<line x1="486" y1="436.2" x2="486" y2="439.9" stroke="#222" stroke-width="0.9"/>
<line x1="494.1" y1="436.2" x2="494.1" y2="439.9" stroke="#222" stroke-width="0.9"/>
<line x1="502.2" y1="436.2" x2="502.2" y2="439.9" stroke="#222" stroke-width="0.9"/>
<line x1="510.3" y1="436.2" x2="510.3" y2="439.9" stroke="#222" stroke-width="0.9"/>
<line x1="518.4" y1="436.2" x2="518.4" y2="439.9" stroke="#222" stroke-width="0.9"/>
<line x1="526.5" y1="436.2" x2="526.5" y2="439.9" stroke="#222" stroke-width="0.9"/>
<line x1="534.6" y1="436.2" x2="534.6" y2="439.9" stroke="#222" stroke-width="0.9"/>
<line x1="542.7" y1="436.2" x2="542.7" y2="439.9" stroke="#222" stroke-width="0.9"/>
<line x1="550.8" y1="436.2" x2="550.8" y2="439.9" stroke="#222" stroke-width="0.9"/>
<line x1="558.9" y1="436.2" x2="558.9" y2="439.9" stroke="#222" stroke-width="0.9"/>
<line x1="567" y1="436.2" x2="567" y2="439.9" stroke="#222" stroke-width="0.9"/>
<line x1="575.1" y1="436.2" x2="575.1" y2="439.9" stroke="#222" stroke-width="0.9"/>
<line x1="583.2" y1="436.2" x2="583.2" y2="439.9" stroke="#222" stroke-width="0.9"/>
<line x1="591.3" y1="436.2" x2="591.3" y2="439.9" stroke="#222" stroke-width="0.9"/>
<text x="25.8" y="448" text-anchor="middle" font-size="7.1" font-weight="bold" fill="#111">0</text>
<text x="105.8" y="448" text-anchor="middle" font-size="7.1" font-weight="bold" fill="#111">10</text>
<text x="186.8" y="448" text-anchor="middle" font-size="7.1" font-weight="bold" fill="#111">20</text>
<text x="267.8" y="448" text-anchor="middle" font-size="7.1" font-weight="bold" fill="#111">30</text>
<text x="348.8" y="448" text-anchor="middle" font-size="7.1" font-weight="bold" fill="#111">40</text>
<text x="429.8" y="448" text-anchor="middle" font-size="7.1" font-weight="bold" fill="#111">50</text>
<text x="510.8" y="448" text-anchor="middle" font-size="7.1" font-weight="bold" fill="#111">60</text>
<text x="591.8" y="448" text-anchor="middle" font-size="7.1" font-weight="bold" fill="#111">70</text>
</g>
<text transform="translate(7.7,233.4) rotate(-90)" text-anchor="middle" font-size="7.1" fill="#111">Detailed Information on important events of 50 included recurrent positive patients</text>
<text x="308" y="460" text-anchor="middle" font-size="7.25" fill="#111">Days since the hospital admission or discharge</text>
<g>
<rect x="404.9" y="389.4" width="6.8" height="6.8" fill="#FAA27B" stroke="#D8855C" stroke-width="0.8"/>
<text x="418" y="395.2" font-size="7.05" fill="#111">Under quarantine</text>
<rect x="494.2" y="389.4" width="6.8" height="6.8" fill="#769ED8" stroke="#50749F" stroke-width="0.8"/>
<text x="506.6" y="395.2" font-size="7.05" fill="#111">Follow-up surveillance</text>
<polygon points="406,403.6 411.6,406.8 406,410" fill="#FBC3A4" stroke="#E27A3E" stroke-width="0.7"/>
<text x="417.4" y="409.5" font-size="7.05" fill="#111">Hospital admission</text>
<circle cx="497.6" cy="406.8" r="3.5" fill="#4A70C8" stroke="#3C6AA8" stroke-width="0.6"/>
<text x="506.6" y="409.5" font-size="7.05" fill="#111">Hospital discharge</text>
<rect x="404.7" y="418" width="7" height="7" fill="#FF0000"/>
<text x="418" y="424.1" font-size="7.05" fill="#111">Test positive</text>
<rect x="494" y="418" width="7.2" height="7" fill="#0CC75C"/>
<text x="506.6" y="424.1" font-size="7.05" fill="#111">Test negative</text>
</g>
<rect x="503.5" y="441.4" width="14" height="8.5" fill="#fff"/>
<g class="wm" fill="#fff" stroke="#fff" stroke-width="5" stroke-linejoin="round"><text transform="translate(484,450.5) skewX(-14) scale(1.0,1.0)" font-size="27">山</text><text transform="translate(516,451) skewX(-14) scale(0.72,1.18)" font-size="28">医</text><text transform="translate(543,450.5) skewX(-14) scale(0.95,1.0)" font-size="27">大</text></g>
<g class="wm" fill="#1A3DB0" stroke="#1A3DB0" stroke-width="1.0" stroke-linejoin="round"><text transform="translate(484,450.5) skewX(-14) scale(1.0,1.0)" font-size="27">山</text><text transform="translate(516,451) skewX(-14) scale(0.72,1.18)" font-size="28">医</text><text transform="translate(543,450.5) skewX(-14) scale(0.95,1.0)" font-size="27">大</text></g>
</svg>
</body></html>
